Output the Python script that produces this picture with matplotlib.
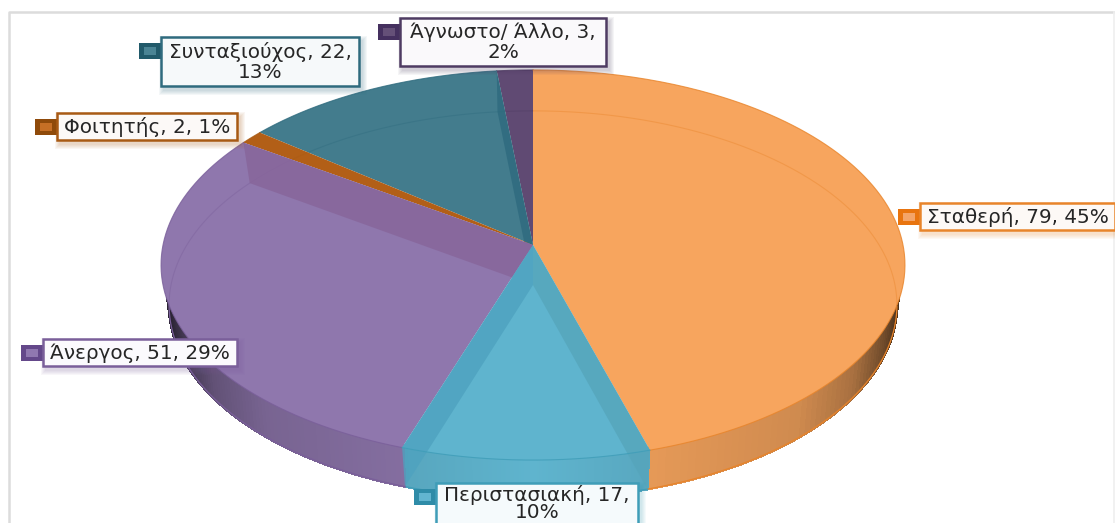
import numpy as np
import matplotlib
matplotlib.use('Agg')
import matplotlib.pyplot as plt
from matplotlib.collections import PolyCollection
from matplotlib.patches import Polygon, Rectangle

# Werte
categories = ['Σταθερή', 'Περιστασιακή', 'Άνεργος', 'Φοιτητής', 'Συνταξιούχος', 'Άγνωστο/ Άλλο']
values = [79, 17, 51, 2, 22, 3]
percents = [45, 10, 29, 1, 13, 2]

top_colors = ['#F7A55E', '#5FB4CE', '#8F77AD', '#B25F17', '#437C8D', '#604A73']
edge_colors = ['#E8842A', '#3F9DB8', '#7A5F9A', '#A85A14', '#2F6B7E', '#4E3B62']
swatch_colors = ['#E8740F', '#2F8CA8', '#64488A', '#8F4A0A', '#215A6A', '#45305F']
swatch_inner = ['#F4A468', '#62B5D0', '#9078B0', '#C66F25', '#4A8494', '#655078']
box_fills = ['#FDF9F6', '#F5FAFC', '#FBFAFD', '#FCF9F7', '#F6F9FA', '#FAF9FB']

# Position der Beschriftungen in Pixeln: links, oben, rechts, unten
label_boxes = [(920, 203, 1115, 230), (436, 483, 638, 530), (43, 339, 237, 366),
               (57, 113, 237, 140), (161, 37, 359, 86), (400, 18, 606, 66)]
wrap_after_value = [False, True, False, False, True, True]

# Perspektive der Torte
CX = 533
PERSP = 0.1026
TOP = dict(a=370, y0=245, b=193)
WALL_TOP = dict(a=367, y0=245, b=191)  # etwas kleiner, damit die Wand nicht ueber den Deckel ragt
BOT = dict(a=362, y0=285, b=192)


def project(theta, face):
    # theta im Uhrzeigersinn ab 12 Uhr
    u = np.sin(theta)
    v = np.cos(theta)
    w = 1 + PERSP * v
    return CX + face['a'] * u / w, face['y0'] - face['b'] * v / w


def wedge_points(t0, t1, face):
    th = np.linspace(t0, t1, 200)
    x, y = project(th, face)
    return np.column_stack([np.r_[CX, x], np.r_[face['y0'], y]])


def shade(color, f):
    rgb = np.array(matplotlib.colors.to_rgb(color))
    return tuple(rgb * f)


fig = plt.figure(figsize=(11.15, 5.23), dpi=100)
ax = fig.add_axes([0, 0, 1, 1])
ax.set_xlim(0, 1115)
ax.set_ylim(523, 0)
ax.axis('off')

# Rahmen
ax.plot([9, 9, 1115], [523, 12, 12], color='#DCDCDC', lw=1.8, zorder=0)
ax.plot([1113.5, 1113.5], [12, 523], color='#EFEFEF', lw=1.2, zorder=0)

fractions = np.array(values) / sum(values)
ends = np.cumsum(fractions) * 2 * np.pi
starts = np.r_[0, ends[:-1]]

# Aussenwand mit Verlauf zum Rand hin, nur die vordere Haelfte ist zu sehen
for i in range(len(values)):
    th = np.linspace(starts[i], ends[i], 140)
    xt, yt = project(th, WALL_TOP)
    xb, yb = project(th, BOT)
    quads = []
    cols = []
    for j in range(len(th) - 1):
        if np.cos(th[j]) > -0.1:
            continue
        quads.append([(xt[j], yt[j]), (xt[j + 1], yt[j + 1]), (xb[j + 1], yb[j + 1]), (xb[j], yb[j])])
        d = abs(xb[j] - CX) / BOT['a']
        f = np.interp(d, [0, 0.32, 0.73, 0.88, 0.96, 1.0], [1.0, 0.93, 0.84, 0.68, 0.46, 0.3])
        cols.append(shade(top_colors[i], f))
    if quads:
        ax.add_collection(PolyCollection(quads, facecolors=cols, edgecolors=cols, linewidths=1.2,
                                         antialiased=False, zorder=1))
    keep = np.cos(th) < -0.1
    ax.plot(xb[keep], yb[keep], color=edge_colors[i], lw=0.9, zorder=1.5)

# Farbe der durchscheinenden Seitenwaende je Stueck und Winkel
bands = {2: [(ends[2], '#87659A')], 4: [(ends[4], '#2E6A7E')],
         1: [(starts[1], '#56A5BB'), (ends[1], '#4EA2BF')]}

# Von hinten nach vorne zeichnen
for z, i in enumerate([5, 4, 3, 2, 0, 1]):
    pts = wedge_points(starts[i], ends[i], TOP)
    z0 = 2 + z
    poly = Polygon(pts, closed=True, facecolor=top_colors[i], edgecolor='none', zorder=z0)
    ax.add_patch(poly)

    # Innenlinie des Bodens, nur innerhalb des Tortenstuecks sichtbar
    th = np.linspace(0, 2 * np.pi, 500)
    xb, yb = project(th, BOT)
    line, = ax.plot(xb, yb, color=edge_colors[i], lw=0.8, alpha=0.4, zorder=z0 + 0.1)
    line.set_clip_path(poly)

    # Seitenwaende der Stuecke scheinen durch
    for t, col in bands.get(i, []):
        xt, yt = project(t, TOP)
        xb2, yb2 = project(t, BOT)
        band = [(CX, TOP['y0']), (xt, yt), (xb2, yb2), (CX, BOT['y0'])]
        ax.add_patch(Polygon(band, closed=True, facecolor=col, edgecolor='none', alpha=0.8, zorder=z0 + 0.2))
    xa, ya = project(np.linspace(starts[i], ends[i], 200), TOP)
    ax.plot(xa, ya, color=edge_colors[i], lw=0.8, alpha=0.8, zorder=z0 + 0.3)

# Beschriftungen mit Schatten und Farbfeld
for i, cat in enumerate(categories):
    x0, y0, x1, y1 = label_boxes[i]
    w = x1 - x0
    h = y1 - y0
    for s in range(5, 0, -1):
        ax.add_patch(Rectangle((x0 + 3 - s, y0 + 4 - s), w + 2 * s, h + 2 * s, facecolor=edge_colors[i],
                               edgecolor='none', alpha=0.05, zorder=20))
    ax.add_patch(Rectangle((x0, y0), w, h, facecolor=box_fills[i], edgecolor=edge_colors[i], lw=1.8, zorder=21))
    sep = ',\n' if wrap_after_value[i] else ', '
    txt = f'{cat}, {values[i]}{sep}{percents[i]}%'
    if i == 1:
        # Unterer Rand des Kastens liegt ausserhalb des Bildes, der Text nicht
        ax.text((x0 + x1) / 2, 522, txt, ha='center', va='bottom', fontsize=14.4, color='#262626',
                linespacing=0.85, zorder=22)
    else:
        ax.text((x0 + x1) / 2, (y0 + y1) / 2 + 0.5, txt, ha='center', va='center', fontsize=14.4, color='#262626',
                linespacing=1.1, zorder=22)
    sy = y0 + 6
    ax.add_patch(Rectangle((x0 - 22, sy), 22, 16, facecolor=swatch_colors[i], edgecolor='none', zorder=20.5))
    ax.add_patch(Rectangle((x0 - 17, sy + 4), 12, 8, facecolor=swatch_inner[i], edgecolor='none', zorder=20.6))

fig.savefig('out.png', dpi=100)
plt.close(fig)
